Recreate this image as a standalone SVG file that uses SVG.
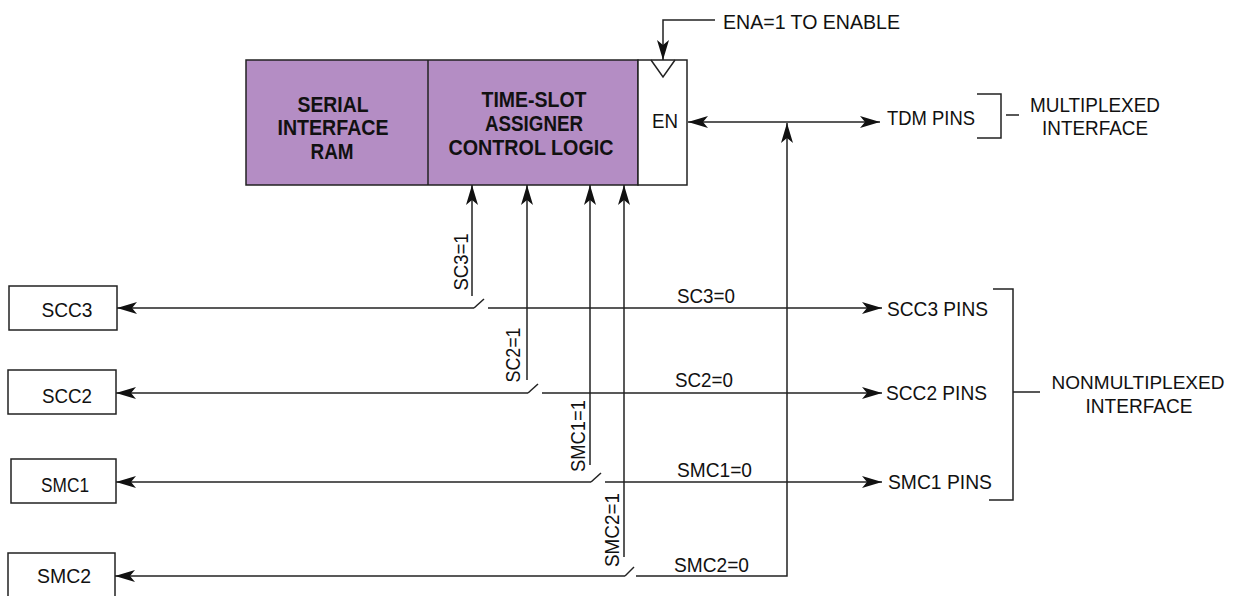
<svg xmlns="http://www.w3.org/2000/svg" width="1239" height="596" viewBox="0 0 1239 596">
<style>
  .bx{fill:#fff;stroke:#222;stroke-width:1.5}
  .pu{fill:#b48dc4;stroke:#222;stroke-width:1.5}
  .ln{fill:none;stroke:#222;stroke-width:1.5}
  .t{font-family:"Liberation Sans",Arial,sans-serif;font-size:21px;fill:#111}
  .s{font-family:"Liberation Sans",Arial,sans-serif;font-size:20px;fill:#111}
  .tb{font-family:"Liberation Sans",Arial,sans-serif;font-size:22px;font-weight:bold;fill:#111}
  .m{text-anchor:middle}
</style>
<defs>
  <marker id="ah" viewBox="0 0 20 12" refX="20" refY="6" markerWidth="20" markerHeight="12" orient="auto-start-reverse" markerUnits="userSpaceOnUse">
    <path d="M0,0 L20,6 L0,12 L5,6 Z" fill="#111"/>
  </marker>
</defs>
<rect width="1239" height="596" fill="#fff"/>

<g id="tsa">
  <rect class="pu" x="246" y="60" width="392" height="125"/>
  <line class="ln" x1="428" y1="60" x2="428" y2="185"/>
  <text class="tb m" x="333" y="112" textLength="71" lengthAdjust="spacingAndGlyphs">SERIAL</text>
  <text class="tb m" x="333" y="135" textLength="111" lengthAdjust="spacingAndGlyphs">INTERFACE</text>
  <text class="tb m" x="332" y="159" textLength="43" lengthAdjust="spacingAndGlyphs">RAM</text>
  <text class="tb m" x="534" y="107" textLength="105" lengthAdjust="spacingAndGlyphs">TIME-SLOT</text>
  <text class="tb m" x="534" y="131" textLength="98" lengthAdjust="spacingAndGlyphs">ASSIGNER</text>
  <text class="tb m" x="531" y="155" textLength="165" lengthAdjust="spacingAndGlyphs">CONTROL LOGIC</text>
</g>
<g id="en">
  <rect class="bx" x="638" y="60" width="49" height="125"/>
  <path class="ln" d="M651,60 L663,77 L675,60"/>
  <text class="t m" x="665" y="128" textLength="26" lengthAdjust="spacingAndGlyphs">EN</text>
</g>

<g id="scc3"><rect class="bx" x="9" y="286" width="108" height="44"/><text class="s m" x="67" y="317" textLength="51" lengthAdjust="spacingAndGlyphs">SCC3</text></g>
<g id="scc2"><rect class="bx" x="8" y="370" width="108" height="44"/><text class="s m" x="67" y="403" textLength="50" lengthAdjust="spacingAndGlyphs">SCC2</text></g>
<g id="smc1"><rect class="bx" x="11" y="459" width="105" height="44"/><text class="s m" x="65" y="492" textLength="48" lengthAdjust="spacingAndGlyphs">SMC1</text></g>
<g id="smc2"><rect class="bx" x="8" y="553" width="107" height="46"/><text class="s m" x="64" y="583" textLength="54" lengthAdjust="spacingAndGlyphs">SMC2</text></g>

<g id="ena-label"><text class="t" x="723" y="29" textLength="177" lengthAdjust="spacingAndGlyphs">ENA=1 TO ENABLE</text></g>
<g id="tdm-pins"><text class="t" x="887" y="125" textLength="88" lengthAdjust="spacingAndGlyphs">TDM PINS</text></g>
<g id="multiplexed">
  <path class="ln" d="M977,94 H1001 V138 H977 M1006,115 H1019"/>
  <text class="t m" x="1095" y="112" textLength="130" lengthAdjust="spacingAndGlyphs">MULTIPLEXED</text>
  <text class="t m" x="1095" y="135" textLength="106" lengthAdjust="spacingAndGlyphs">INTERFACE</text>
</g>
<g id="scc3-pins"><text class="t" x="887" y="316" textLength="101" lengthAdjust="spacingAndGlyphs">SCC3 PINS</text></g>
<g id="scc2-pins"><text class="t" x="886" y="400" textLength="101" lengthAdjust="spacingAndGlyphs">SCC2 PINS</text></g>
<g id="smc1-pins"><text class="t" x="888" y="489" textLength="104" lengthAdjust="spacingAndGlyphs">SMC1 PINS</text></g>
<g id="nonmultiplexed">
  <path class="ln" d="M993,289 H1013 V500 H989 M1013,392 H1040"/>
  <text class="m" x="1138" y="389" style="font-family:'Liberation Sans',Arial,sans-serif;font-size:19px;fill:#111">NONMULTIPLEXED</text>
  <text class="t m" x="1139" y="413" textLength="107" lengthAdjust="spacingAndGlyphs">INTERFACE</text>
</g>

<g id="connectors">
  <path class="ln" d="M715,20 H663 V60" marker-end="url(#ah)"/>
  <path class="ln" d="M688,122 H880" marker-start="url(#ah)" marker-end="url(#ah)"/>

  <path class="ln" d="M472,296 V185" marker-end="url(#ah)"/>
  <path class="ln" d="M527,380 V185" marker-end="url(#ah)"/>
  <path class="ln" d="M590,465 V185" marker-end="url(#ah)"/>
  <path class="ln" d="M624,557 V185" marker-end="url(#ah)"/>

  <path class="ln" d="M474,308 H117" marker-end="url(#ah)"/>
  <path class="ln" d="M474,308 L484,299"/>
  <path class="ln" d="M488,308 H882" marker-end="url(#ah)"/>

  <path class="ln" d="M528,393 H116" marker-end="url(#ah)"/>
  <path class="ln" d="M528,393 L538,384"/>
  <path class="ln" d="M542,393 H882" marker-end="url(#ah)"/>

  <path class="ln" d="M591,482 H116" marker-end="url(#ah)"/>
  <path class="ln" d="M591,482 L601,473"/>
  <path class="ln" d="M605,482 H882" marker-end="url(#ah)"/>

  <path class="ln" d="M625,576 H115" marker-end="url(#ah)"/>
  <path class="ln" d="M625,576 L634,567"/>
  <path class="ln" d="M636,576 H787 V123" marker-end="url(#ah)"/>

  <text class="t m" transform="translate(468,262) rotate(-90)" textLength="57" lengthAdjust="spacingAndGlyphs">SC3=1</text>
  <text class="t m" transform="translate(520,355) rotate(-90)" textLength="55" lengthAdjust="spacingAndGlyphs">SC2=1</text>
  <text class="t m" transform="translate(585,436) rotate(-90)" textLength="72" lengthAdjust="spacingAndGlyphs">SMC1=1</text>
  <text class="t m" transform="translate(619,530) rotate(-90)" textLength="74" lengthAdjust="spacingAndGlyphs">SMC2=1</text>

  <text class="t" x="677" y="303" textLength="58" lengthAdjust="spacingAndGlyphs">SC3=0</text>
  <text class="t" x="675" y="387" textLength="58" lengthAdjust="spacingAndGlyphs">SC2=0</text>
  <text class="t" x="677" y="477" textLength="75" lengthAdjust="spacingAndGlyphs">SMC1=0</text>
  <text class="t" x="674" y="572" textLength="75" lengthAdjust="spacingAndGlyphs">SMC2=0</text>
</g>
</svg>
